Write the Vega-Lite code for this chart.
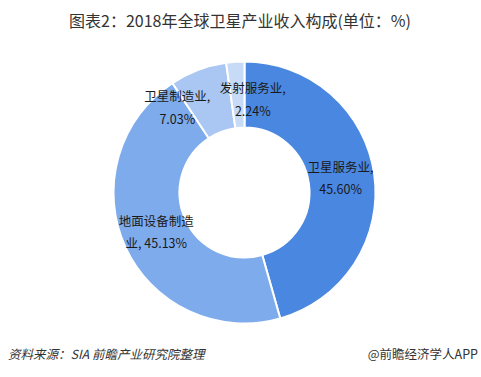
{
  "$schema": "https://vega.github.io/schema/vega-lite/v6.json",
  "width": 481,
  "height": 377,
  "autosize": {"type": "fit", "contains": "padding"},
  "padding": {"left": 8, "top": 8, "right": 0, "bottom": 0},
  "background": "white",
  "config": {"view": {"stroke": null}, "font": "Noto Sans CJK SC"},
  "data": {
    "values": [
      {"name": "卫星服务业", "value": 45.60, "label": "卫星服务业,\n45.60%"},
      {"name": "地面设备制造业", "value": 45.13, "label": "地面设备制造\n业, 45.13%"},
      {"name": "卫星制造业", "value": 7.03, "label": "卫星制造业,\n7.03%"},
      {"name": "发射服务业", "value": 2.24, "label": "发射服务业,\n2.24%"}
    ]
  },
  "layer": [
    {
      "mark": {"type": "arc", "outerRadius": 131, "innerRadius": 65, "stroke": "white", "strokeWidth": 2},
      "encoding": {
        "theta": {"field": "value", "type": "quantitative", "stack": true},
        "order": {"field": "value", "type": "quantitative", "sort": "descending"},
        "color": {
          "field": "name", "type": "nominal", "legend": null,
          "scale": {
            "domain": ["卫星服务业", "地面设备制造业", "卫星制造业", "发射服务业"],
            "range": ["#4a87e0", "#7eabec", "#a9c7f2", "#c7dbf6"]
          }
        }
      }
    },
    {
      "transform": [
        {"stack": "value", "groupby": [], "as": ["t0", "t1"], "sort": [{"field": "value", "order": "descending"}]},
        {"calculate": "(datum.t0 + datum.t1) / 2", "as": "mid"},
        {"filter": "datum.value > 10"}
      ],
      "mark": {"type": "text", "radius": 97, "dy": -11, "fontSize": 12.5, "lineBreak": "\n", "lineHeight": 22, "align": "center", "baseline": "middle", "color": "#1a1a1a"},
      "encoding": {
        "theta": {"field": "mid", "type": "quantitative", "stack": null},
        "text": {"field": "label"}
      }
    },
    {
      "transform": [
        {"stack": "value", "groupby": [], "as": ["t0", "t1"], "sort": [{"field": "value", "order": "descending"}]},
        {"calculate": "(datum.t0 + datum.t1) / 2", "as": "mid"},
        {"filter": "datum.name === '卫星制造业'"}
      ],
      "mark": {"type": "text", "radius": 108, "dx": -29, "dy": 6, "fontSize": 12.5, "lineBreak": "\n", "lineHeight": 23, "align": "center", "baseline": "middle", "color": "#1a1a1a"},
      "encoding": {
        "theta": {"field": "mid", "type": "quantitative", "stack": null},
        "text": {"field": "label"}
      }
    },
    {
      "transform": [
        {"stack": "value", "groupby": [], "as": ["t0", "t1"], "sort": [{"field": "value", "order": "descending"}]},
        {"calculate": "(datum.t0 + datum.t1) / 2", "as": "mid"},
        {"filter": "datum.name === '发射服务业'"}
      ],
      "mark": {"type": "text", "radius": 95, "dx": 15, "dy": -9, "fontSize": 12.5, "lineBreak": "\n", "lineHeight": 23, "align": "center", "baseline": "middle", "color": "#1a1a1a"},
      "encoding": {
        "theta": {"field": "mid", "type": "quantitative", "stack": null},
        "text": {"field": "label"}
      }
    },
    {
      "data": {"values": [{"t": "图表2：2018年全球卫星产业收入构成(单位：%)"}]},
      "mark": {"type": "text", "fontSize": 16, "align": "center", "baseline": "middle", "color": "#333333"},
      "encoding": {"x": {"value": 232}, "y": {"value": 14}, "text": {"field": "t"}}
    },
    {
      "data": {"values": [{"t": "资料来源：SIA 前瞻产业研究院整理"}]},
      "mark": {"type": "text", "fontSize": 12.5, "fontStyle": "italic", "align": "left", "baseline": "middle", "color": "#333333"},
      "encoding": {"x": {"value": 0}, "y": {"value": 347}, "text": {"field": "t"}}
    },
    {
      "data": {"values": [{"t": "@前瞻经济学人APP"}]},
      "mark": {"type": "text", "fontSize": 12.5, "align": "right", "baseline": "middle", "color": "#333333"},
      "encoding": {"x": {"value": 470}, "y": {"value": 347}, "text": {"field": "t"}}
    }
  ]
}
